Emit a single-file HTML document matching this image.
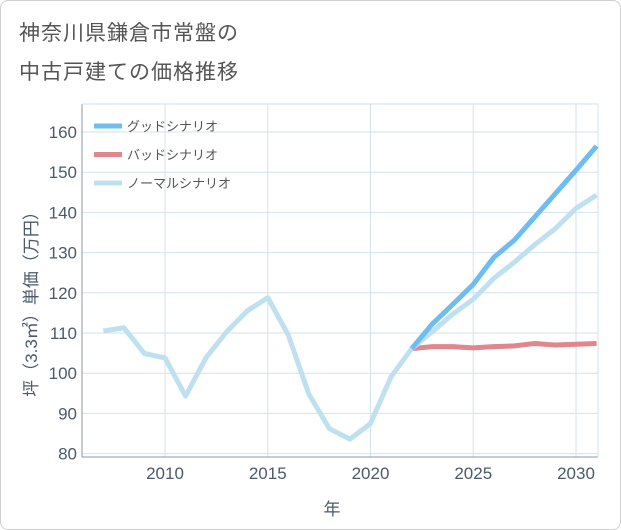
<!DOCTYPE html>
<html><head><meta charset="utf-8"><style>
body{margin:0;background:#fff;font-family:"Liberation Sans","Noto Sans CJK JP",sans-serif}
#wrap{position:relative;width:619px;height:528px;border:1px solid #d0d0d0;border-radius:8px;background:#fff;overflow:hidden}
.title{position:absolute;left:18px;font-size:21px;color:#555;letter-spacing:1px}
</style></head><body>
<div id="wrap">
<div class="title" style="top:16px">神奈川県鎌倉市常盤の</div>
<div class="title" style="top:55px">中古戸建ての価格推移</div>
<svg id="chart" width="621" height="530" style="position:absolute;left:-1px;top:-1px"></svg>
</div>
<script>
const years=[2007,2008,2009,2010,2011,2012,2013,2014,2015,2016,2017,2018,2019,2020,2021,2022,2023,2024,2025,2026,2027,2028,2029,2030,2031];
const normalVals=[110.5,111.3,104.9,103.8,94.3,103.9,110.3,115.5,118.8,109.5,94.8,86.2,83.6,87.5,99.1,106.1,110.3,114.7,118.4,123.6,127.6,132,136,141,144.3];
const goodYears=[2022,2023,2024,2025,2026,2027,2028,2029,2030,2031];
const goodVals=[106.1,112.2,117.1,122.1,128.8,133.1,138.9,144.7,150.5,156.5];
const badVals=[106.1,106.6,106.6,106.3,106.6,106.8,107.4,107,107.2,107.4];
const yTicks=[80,90,100,110,120,130,140,150,160];
const xTicks=[2010,2015,2020,2025,2030];
const seriesNames=["グッドシナリオ","バッドシナリオ","ノーマルシナリオ"];
const L=82,R=598,T=104,B=457;
const xs=v=>165+(v-2010)*20.55;
const ys=v=>132+(160-v)*4.02;
const svg=document.getElementById('chart');
const NS='http://www.w3.org/2000/svg';
function mk(t,a){const e=document.createElementNS(NS,t);for(const k in a)e.setAttribute(k,a[k]);svg.appendChild(e);return e;}
yTicks.forEach(v=>{
 const l=mk('line',{x1:L,x2:R,y1:ys(v),y2:ys(v),stroke:'#d3e3ee','stroke-width':1});
 
 
 const t=mk('text',{x:L-5,y:ys(v)+6,'text-anchor':'end','font-size':17,fill:'#4a5a6a'});
 t.textContent=v;
 
 
});
xTicks.forEach(v=>{
 const l=mk('line',{x1:xs(v),x2:xs(v),y1:T,y2:B,stroke:'#d3e3ee','stroke-width':1});
 
 
 const t=mk('text',{x:xs(v),y:B+22,'text-anchor':'middle','font-size':17,fill:'#4a5a6a'});
 t.textContent=v;
 
 
});
const fr=mk('path',{d:`M${L} ${T}V${B}H${R}`,fill:'none',stroke:'#8899aa','stroke-width':1});


const fr2=mk('path',{d:`M${L} ${T}H${R}V${B}`,fill:'none',stroke:'#d3e3ee','stroke-width':1});


function line(xv,yv,color,name){
 const p=mk('polyline',{points:xv.map((x,i)=>xs(x)+','+ys(yv[i])).join(' '),fill:'none',stroke:color,'stroke-width':5,'stroke-linejoin':'round'});
 
 
}
line(goodYears,badVals,'#e0868c','bad-scenario-line');
line(years,normalVals,'#bfe0ef','normal-scenario-line');
line(goodYears,goodVals,'#6dbdf1','good-scenario-line');
line(goodYears.slice(0,1).concat([2022.01]),[106.1,106.1],'#bfe0ef','normal-join');
const cols=['#6dbdf1','#e0868c','#bfe0ef'];
seriesNames.forEach((n,i)=>{
 const y=126+i*28.5;
 const s=mk('line',{x1:94,x2:122,y1:y,y2:y,stroke:cols[i],'stroke-width':5});
 
 
 const t=mk('text',{x:127,y:y+5,'font-size':13,fill:'#555'});
 t.textContent=n;
 
 
});
const xt=mk('text',{x:332,y:515,'text-anchor':'middle','font-size':17,fill:'#4a5a6a'});
xt.textContent='年';


const yt=mk('text',{x:0,y:0,'text-anchor':'middle','font-size':17,fill:'#4a5a6a',transform:'translate(37,300) rotate(-90)'});
yt.textContent='坪（3.3㎡）単価（万円）';


</script>
</body></html>
